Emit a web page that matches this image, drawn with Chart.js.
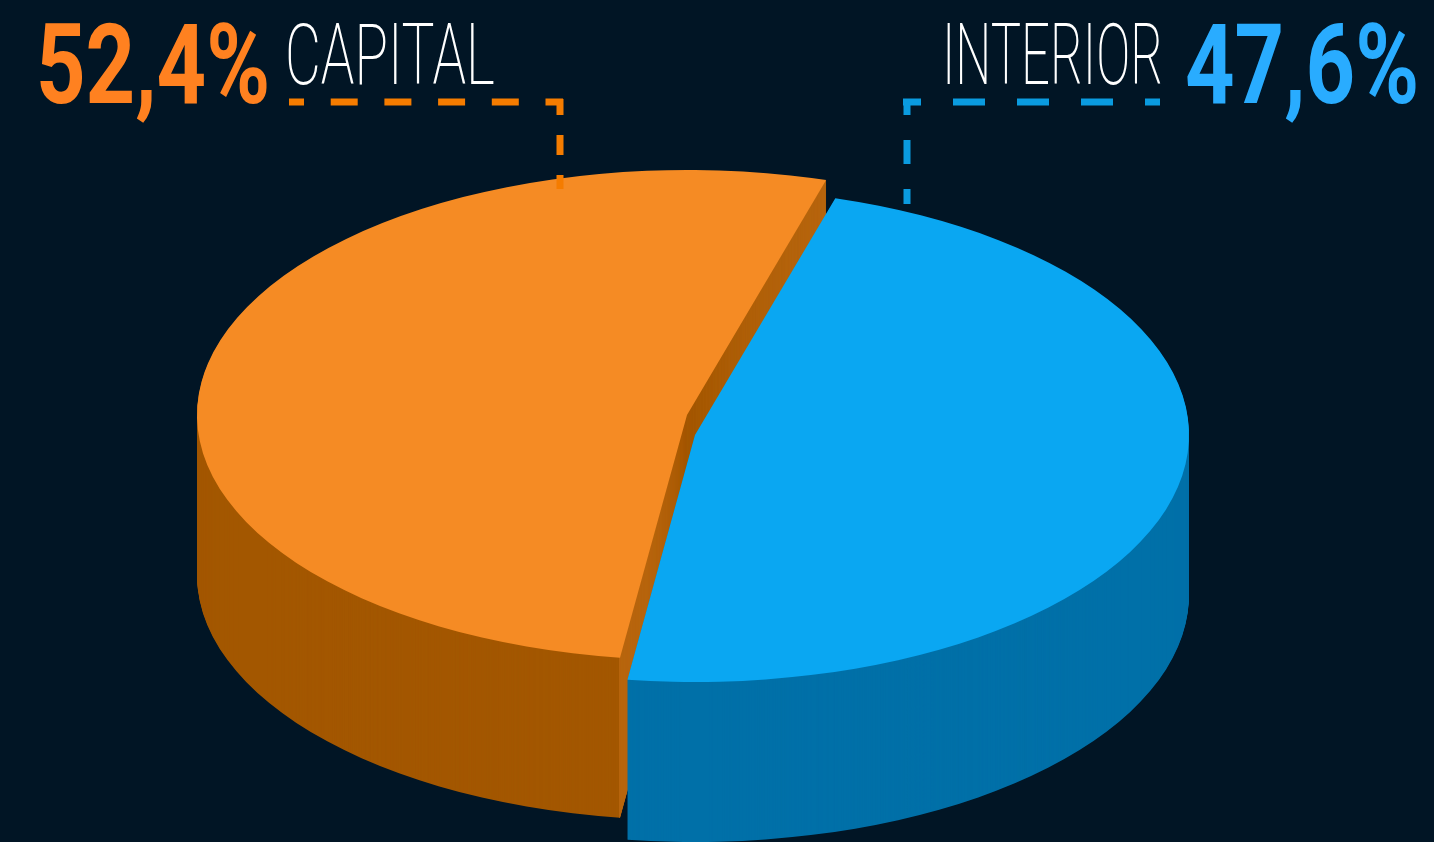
<!DOCTYPE html>
<html lang="pt">
<head>
  <meta charset="UTF-8" />
  <title>Capital e Interior</title>
  <script src="https://cdn.jsdelivr.net/npm/chart.js"></script>
  <style>
    html, body { margin: 0; height: 100%; background: #011525; overflow: hidden; }
    #chart { position: absolute; left: 0; top: 0; }
    .tag {
      position: absolute;
      line-height: 1;
      white-space: nowrap;
      transform-origin: left top;
    }
    .pct { font-family: "Liberation Sans Narrow", Roboto, sans-serif; font-size: 112px; font-weight: 700; top: 9px; }
    .name { font-family: Roboto, sans-serif; font-size: 86px; font-weight: 200; top: 12px; color: #fff; }
    #pctCapital { left: 36px; color: #ff8120; }
    #nameCapital { left: 285px; }
    #nameInterior { left: 942px; }
    #pctInterior { left: 1185px; color: #29acff; }
  </style>
</head>
<body>
  <canvas id="chart" width="1434" height="842"></canvas>
  <span class="tag pct" id="pctCapital" data-fit="234"></span>
  <span class="tag name" id="nameCapital" data-fit="210"></span>
  <span class="tag name" id="nameInterior" data-fit="221"></span>
  <span class="tag pct" id="pctInterior" data-fit="234"></span>

  <script>
    const categories = ['INTERIOR', 'CAPITAL'];
    const shares = [47.6, 52.4];
    const topColors = ['#0aa7f2', '#f58b24'];
    const wallColors = ['#0070a8', '#a35700'];
    const cutColor = '#b8660f';

    // where each slice sits on the page, index same as categories
    const sliceBox = [
      { cx: 695, cy: 435, rx: 494, ry: 247 },
      { cx: 687, cy: 415, rx: 490, ry: 245 }
    ];
    const depth = 160;

    function format(v) {
      return v.toFixed(1).replace('.', ',') + '%';
    }

    function drawPiece(ctx, arc, box, dy, color, start, end) {
      const piece = Object.create(arc);
      piece.options = {
        backgroundColor: color, borderColor: color, borderWidth: 0, borderAlign: 'center',
        borderRadius: 0, borderJoinStyle: 'round', spacing: 0, offset: 0, circular: true
      };
      if (start !== undefined) {
        piece.startAngle = start;
        piece.endAngle = end;
        piece.circumference = end - start;
      }
      ctx.save();
      ctx.translate(box.cx, box.cy + dy);
      ctx.scale(box.rx / arc.outerRadius, box.ry / arc.outerRadius);
      ctx.translate(-arc.x, -arc.y);
      piece.draw(ctx);
      ctx.restore();
    }

    function dashLine(ctx, color, x1, y1, x2, y2, dash, gap, shift) {
      ctx.save();
      ctx.strokeStyle = color;
      ctx.lineWidth = 7;
      ctx.setLineDash([dash, gap]);
      ctx.lineDashOffset = shift;
      ctx.beginPath();
      ctx.moveTo(x1, y1);
      ctx.lineTo(x2, y2);
      ctx.stroke();
      ctx.restore();
    }

    const pie3d = {
      id: 'pie3d',
      beforeDatasetsDraw(chart) {
        const ctx = chart.ctx;
        const arcs = chart.getDatasetMeta(0).data;
        // capital goes first, interior overlaps it
        [1, 0].forEach(i => {
          const arc = arcs[i];
          const box = sliceBox[i];
          for (let dy = depth; dy > 0; dy--) {
            drawPiece(ctx, arc, box, dy, wallColors[i]);
          }
          if (i === 1) {
            // the cut faces of the capital slice show in the gap
            const thin = 0.002;
            for (let dy = depth; dy > 0; dy--) {
              drawPiece(ctx, arc, box, dy, cutColor, arc.startAngle, arc.startAngle + thin);
              drawPiece(ctx, arc, box, dy, cutColor, arc.endAngle - thin, arc.endAngle);
            }
          }
          drawPiece(ctx, arc, box, 0, topColors[i]);
        });
        return false;
      },
      afterDraw(chart) {
        const ctx = chart.ctx;
        dashLine(ctx, '#f57c00', 289, 102, 563, 102, 27, 26.7, 12);
        dashLine(ctx, '#f57c00', 560, 99, 560, 189, 20, 20, 4);
        dashLine(ctx, '#0a9be0', 1160, 102, 903, 102, 32, 32, 17);
        dashLine(ctx, '#0a9be0', 907, 99, 907, 204, 24, 25, 8);
      }
    };

    new Chart(document.getElementById('chart'), {
      type: 'pie',
      data: {
        labels: categories,
        datasets: [{ data: shares, backgroundColor: topColors, borderWidth: 0 }]
      },
      options: {
        responsive: false,
        animation: false,
        rotation: 16.5,
        events: [],
        plugins: { legend: { display: false }, tooltip: { enabled: false } }
      },
      plugins: [pie3d]
    });

    document.getElementById('pctCapital').textContent = format(shares[1]);
    document.getElementById('nameCapital').textContent = categories[1];
    document.getElementById('nameInterior').textContent = categories[0];
    document.getElementById('pctInterior').textContent = format(shares[0]);

    // squeeze the labels to the narrow look of the original type
    document.querySelectorAll('.tag').forEach(el => {
      el.style.transform = 'scaleX(' + (Number(el.dataset.fit) / el.offsetWidth) + ')';
    });
  </script>
</body>
</html>
